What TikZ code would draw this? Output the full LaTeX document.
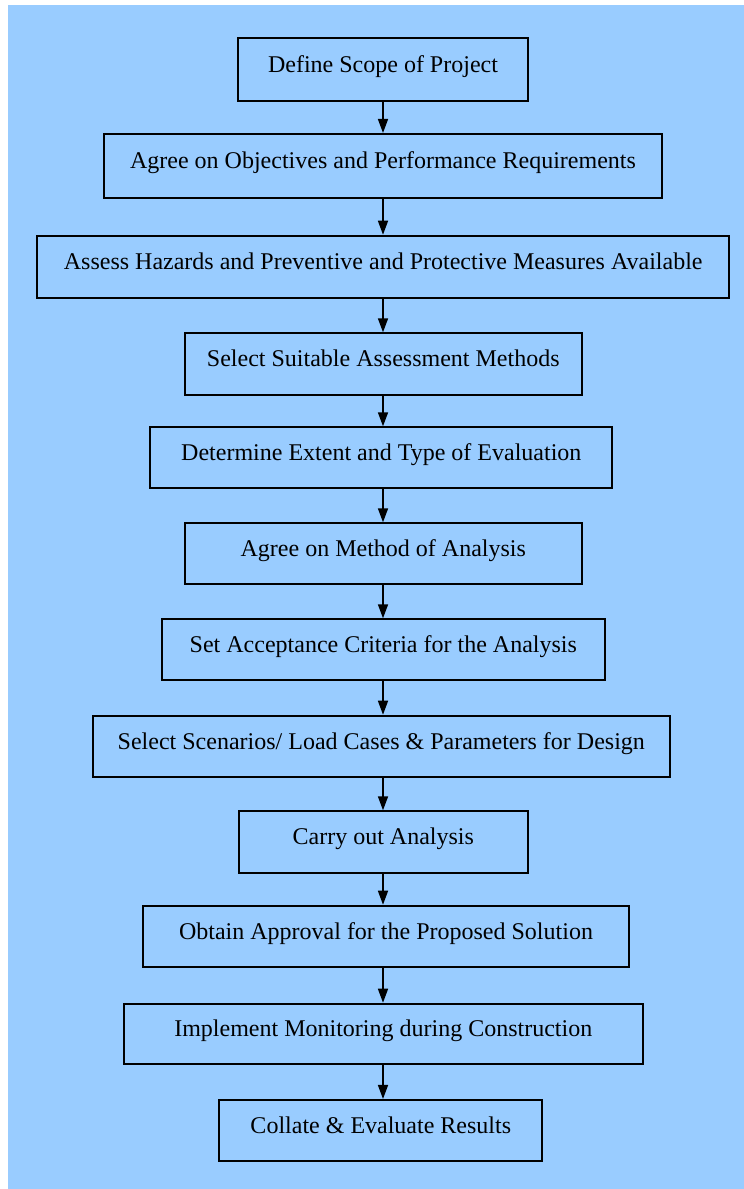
\documentclass[tikz,border=0pt]{standalone}
\usepackage{fontspec}
\setmainfont{Liberation Serif}
\usetikzlibrary{arrows.meta}
\definecolor{bgblue}{HTML}{99CCFF}
\begin{document}
\begin{tikzpicture}[x=1pt,y=-1pt,
  stepbox/.style={draw=black, line width=2pt, fill=bgblue, inner sep=0pt,
    font=\fontsize{24pt}{28pt}\selectfont, text height=16pt, text depth=10.4pt},
  flowarrow/.style={-{Triangle[length=14pt,width=10pt]}, line width=1.6pt, black}]
\useasboundingbox (0,0) rectangle (744,1189);
\fill[bgblue] (8,5) rectangle (744,1189);
\coordinate (axis) at (383,0);
\node[stepbox, minimum width=289.4pt, minimum height=62.4pt] (n1) at (383,69.5) {Define Scope of Project};
\node[stepbox, minimum width=558pt, minimum height=63.7pt] (n2) at (383,165.8) {Agree on Objectives and Performance Requirements};
\node[stepbox, minimum width=691.7pt, minimum height=62.6pt] (n3) at (383.2,267) {Assess Hazards and Preventive and Protective Measures Available};
\node[stepbox, minimum width=396.7pt, minimum height=61.4pt] (n4) at (383.3,364) {Select Suitable Assessment Methods};
\node[stepbox, minimum width=462pt, minimum height=61pt] (n5) at (381.3,457.8) {Determine Extent and Type of Evaluation};
\node[stepbox, minimum width=396.7pt, minimum height=61pt] (n6) at (383.3,553.8) {Agree on Method of Analysis};
\node[stepbox, minimum width=442.7pt, minimum height=61pt] (n7) at (383.3,649.8) {Set Acceptance Criteria for the Analysis};
\node[stepbox, minimum width=577.3pt, minimum height=61pt] (n8) at (381.3,746.2) {Select Scenarios/ Load Cases \& Parameters for Design};
\node[stepbox, minimum width=288.7pt, minimum height=61.4pt] (n9) at (383.3,842) {Carry out Analysis};
\node[stepbox, minimum width=486.6pt, minimum height=61pt] (n10) at (386,936.2) {Obtain Approval for the Proposed Solution};
\node[stepbox, minimum width=519.3pt, minimum height=60.6pt] (n11) at (383.3,1034) {Implement Monitoring during Construction};
\node[stepbox, minimum width=323pt, minimum height=60.7pt] (n12) at (380.8,1130.3) {Collate \& Evaluate Results};
\foreach \a/\b in {1/2,2/3,3/4,4/5,5/6,6/7,7/8,8/9,9/10,10/11,11/12}
  \draw[flowarrow] (n\a.south -| axis) -- (n\b.north -| axis);
\end{tikzpicture}
\end{document}
